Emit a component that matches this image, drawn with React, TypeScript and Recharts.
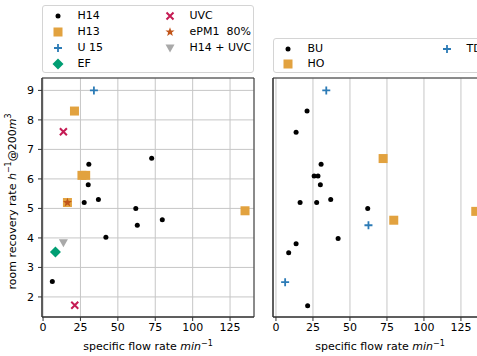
import React from "react";
import { ScatterChart, Scatter, XAxis, YAxis, CartesianGrid, ReferenceArea } from "recharts";

// left panel: filter classes
const H14 = [
  { x: 6.2, y: 2.52 }, { x: 27.5, y: 5.2 }, { x: 30.2, y: 5.8 }, { x: 30.6, y: 6.5 },
  { x: 37, y: 5.3 }, { x: 42, y: 4.02 }, { x: 62, y: 5.0 }, { x: 63, y: 4.43 },
  { x: 72.6, y: 6.7 }, { x: 79.7, y: 4.62 },
];
const H13 = [
  { x: 16.3, y: 5.2 }, { x: 21, y: 8.3 }, { x: 26, y: 6.12 }, { x: 28.5, y: 6.12 }, { x: 135, y: 4.92 },
];
const U15 = [{ x: 34, y: 9.0 }];
const EF = [{ x: 8.3, y: 3.52 }];
const UVC = [{ x: 13.6, y: 7.6 }, { x: 21.2, y: 1.72 }];
const EPM1 = [{ x: 16.3, y: 5.2 }];
const H14_UVC = [{ x: 13.6, y: 3.84 }];

// right panel: device types
const BU = [
  { x: 8.6, y: 3.5 }, { x: 13.6, y: 3.8 }, { x: 13.6, y: 7.58 }, { x: 16.3, y: 5.2 },
  { x: 21, y: 8.3 }, { x: 21.4, y: 1.7 }, { x: 25.8, y: 6.1 }, { x: 28.4, y: 6.1 },
  { x: 27.5, y: 5.2 }, { x: 30, y: 5.8 }, { x: 30.5, y: 6.5 }, { x: 37, y: 5.3 },
  { x: 42, y: 3.98 }, { x: 62, y: 5.0 },
];
const HO = [{ x: 72.4, y: 6.69 }, { x: 79.6, y: 4.6 }, { x: 135, y: 4.9 }];
const TD = [{ x: 6.2, y: 2.5 }, { x: 34, y: 9.0 }, { x: 62.5, y: 4.43 }];

const X_TICKS = [0, 25, 50, 75, 100, 125];
const Y_TICKS = [2, 3, 4, 5, 6, 7, 8, 9];
const LEFT_X_DOMAIN = [-0.7, 141];
const RIGHT_X_DOMAIN = [-2, 142.6];
const Y_DOMAIN = [1.32, 9.42];

const FONT = "'DejaVu Sans', sans-serif";
const C = {
  orange: "#E2A23F",
  blue: "#2C7BB6",
  green: "#009E73",
  crimson: "#C51B54",
  star: "#C1561A",
  grey: "#A9A9A9",
  grid: "#c6c6c6",
  spine: "#333",
};

type MarkerKind = "dot" | "square" | "plus" | "diamond" | "cross" | "star" | "tri";

function marker(kind: MarkerKind, cx: number, cy: number, color: string) {
  switch (kind) {
    case "dot":
      return <circle cx={cx} cy={cy} r={2.5} fill={color} />;
    case "square":
      return <rect x={cx - 4.5} y={cy - 4.5} width={9} height={9} fill={color} />;
    case "plus":
      return <path d={`M${cx - 4},${cy}H${cx + 4}M${cx},${cy - 4}V${cy + 4}`} stroke={color} strokeWidth={1.8} />;
    case "diamond":
      return <path d={`M${cx},${cy - 5.5}L${cx + 5.5},${cy}L${cx},${cy + 5.5}L${cx - 5.5},${cy}Z`} fill={color} />;
    case "cross":
      return <path d={`M${cx - 3.5},${cy - 3.5}L${cx + 3.5},${cy + 3.5}M${cx - 3.5},${cy + 3.5}L${cx + 3.5},${cy - 3.5}`} stroke={color} strokeWidth={2} />;
    case "star": {
      const pts: string[] = [];
      for (let i = 0; i < 10; i++) {
        const r = i % 2 === 0 ? 4.8 : 2;
        const a = -Math.PI / 2 + (i * Math.PI) / 5;
        pts.push(`${cx + r * Math.cos(a)},${cy + r * Math.sin(a)}`);
      }
      return <polygon points={pts.join(" ")} fill={color} />;
    }
    case "tri":
      return <polygon points={`${cx - 4.5},${cy - 3.5} ${cx + 4.5},${cy - 3.5} ${cx},${cy + 4.5}`} fill={color} />;
  }
}

const shapeOf = (kind: MarkerKind, color: string) => (p: any) => <g>{marker(kind, p.cx, p.cy, color)}</g>;

interface SeriesDef { name: string; data: { x: number; y: number }[]; kind: MarkerKind; color: string }

const LEFT_SERIES: SeriesDef[] = [
  { name: "H14", data: H14, kind: "dot", color: "#000" },
  { name: "H13", data: H13, kind: "square", color: C.orange },
  { name: "U 15", data: U15, kind: "plus", color: C.blue },
  { name: "EF", data: EF, kind: "diamond", color: C.green },
  { name: "UVC", data: UVC, kind: "cross", color: C.crimson },
  { name: "ePM1  80%", data: EPM1, kind: "star", color: C.star },
  { name: "H14 + UVC", data: H14_UVC, kind: "tri", color: C.grey },
];

const RIGHT_SERIES: SeriesDef[] = [
  { name: "BU", data: BU, kind: "dot", color: "#000" },
  { name: "HO", data: HO, kind: "square", color: C.orange },
  { name: "TD", data: TD, kind: "plus", color: C.blue },
];

const tickStyle = { fill: "#000", fontSize: 11, fontFamily: FONT };

function XLabel({ viewBox }: any) {
  const cx = viewBox.x + viewBox.width / 2;
  return (
    <text x={cx} y={viewBox.y + 33} textAnchor="middle" fontFamily={FONT} fontSize={11} fill="#000">
      specific flow rate <tspan fontStyle="italic">min</tspan>
      <tspan dy={-4} fontSize={8}>−1</tspan>
    </text>
  );
}

function YLabel({ viewBox }: any) {
  const cx = 12;
  const cy = viewBox.y + viewBox.height / 2 + 4;
  return (
    <text
      x={cx}
      y={cy}
      transform={`rotate(-90 ${cx} ${cy})`}
      textAnchor="middle"
      dominantBaseline="central"
      fontFamily={FONT}
      fontSize={11}
      fill="#000"
    >
      room recovery rate <tspan fontStyle="italic">h</tspan>
      <tspan dy={-4} fontSize={8}>−1</tspan>
      <tspan dy={4}>@200</tspan>
      <tspan fontStyle="italic">m</tspan>
      <tspan dy={-4} fontSize={8}>3</tspan>
    </text>
  );
}

function Panel({ series, xDomain, showYLabels }: { series: SeriesDef[]; xDomain: number[]; showYLabels: boolean }) {
  const yWidth = showYLabels ? 42 : 10;
  const width = yWidth + (showYLabels ? 212 : 214) + 16;
  return (
    <ScatterChart width={width} height={356} margin={{ top: 78, right: 16, left: 0, bottom: 0 }}>
      <CartesianGrid stroke={C.grid} strokeWidth={1} />
      <XAxis
        type="number"
        dataKey="x"
        domain={xDomain}
        ticks={X_TICKS}
        interval={0}
        allowDataOverflow
        height={39}
        tickSize={4}
        tickMargin={2}
        tick={tickStyle}
        stroke={C.spine}
        label={<XLabel />}
      />
      <YAxis
        type="number"
        dataKey="y"
        domain={Y_DOMAIN}
        ticks={Y_TICKS}
        interval={0}
        allowDataOverflow
        width={yWidth}
        tickSize={4}
        tickMargin={4}
        tick={showYLabels ? tickStyle : false}
        stroke={C.spine}
        label={showYLabels ? <YLabel /> : undefined}
      />
      <ReferenceArea
        x1={xDomain[0]}
        x2={xDomain[1]}
        y1={Y_DOMAIN[0]}
        y2={Y_DOMAIN[1]}
        fill="none"
        fillOpacity={0}
        stroke={C.spine}
        strokeWidth={1}
      />
      {series.map((s) => (
        <Scatter key={s.name} name={s.name} data={s.data} shape={shapeOf(s.kind, s.color)} isAnimationActive={false} />
      ))}
    </ScatterChart>
  );
}

function LegendItem({ s, x, y }: { s: SeriesDef; x: number; y: number }) {
  return (
    <>
      <svg style={{ position: "absolute", left: x - 7, top: y - 7 }} width={14} height={14}>
        {marker(s.kind, 7, 7, s.color)}
      </svg>
      <span style={{ position: "absolute", left: x + 19.5, top: y - 7, lineHeight: "14px", whiteSpace: "pre" }}>{s.name}</span>
    </>
  );
}

const boxStyle: React.CSSProperties = {
  position: "absolute",
  background: "#fff",
  border: "1px solid #d4d4d4",
  borderRadius: 3,
  fontFamily: FONT,
  fontSize: 11,
  color: "#000",
  boxSizing: "border-box",
};

export default function App() {
  return (
    <div style={{ position: "absolute", left: 0, top: 0, width: 477, height: 356, overflow: "hidden", background: "#fff" }}>
      <div style={{ position: "absolute", left: 0, top: 0 }}>
        <Panel series={LEFT_SERIES} xDomain={LEFT_X_DOMAIN} showYLabels />
      </div>
      <div style={{ position: "absolute", left: 263, top: 0 }}>
        <Panel series={RIGHT_SERIES} xDomain={RIGHT_X_DOMAIN} showYLabels={false} />
      </div>
      <div style={{ ...boxStyle, left: 42, top: 5, width: 212, height: 68 }}>
        {LEFT_SERIES.slice(0, 4).map((s, i) => (
          <LegendItem key={s.name} s={s} x={15} y={10 + i * 16} />
        ))}
        {LEFT_SERIES.slice(4).map((s, i) => (
          <LegendItem key={s.name} s={s} x={127} y={10 + i * 16} />
        ))}
      </div>
      <div style={{ ...boxStyle, left: 273, top: 38, width: 230, height: 35 }}>
        <LegendItem s={RIGHT_SERIES[0]} x={14} y={10} />
        <LegendItem s={RIGHT_SERIES[1]} x={14} y={25} />
        <LegendItem s={RIGHT_SERIES[2]} x={173} y={10} />
      </div>
    </div>
  );
}
